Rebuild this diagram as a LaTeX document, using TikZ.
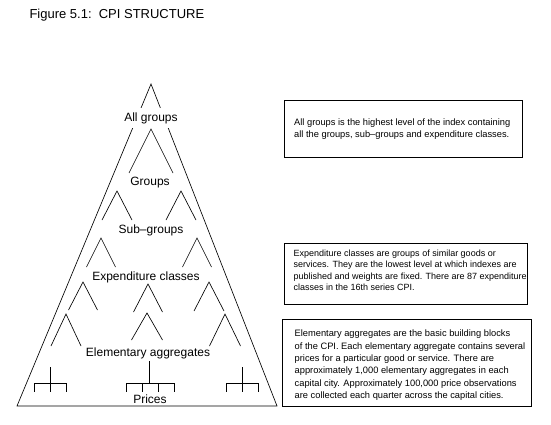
\documentclass[tikz,border=0pt]{standalone}
\usepackage{fontspec}
\setmainfont{Liberation Sans}
\usetikzlibrary{positioning}

\begin{document}
\begin{tikzpicture}[
      x=1pt, y=-1pt,
      outline/.style={line width=0.65pt},
      levellabel/.style={font=\fontsize{12}{14}\selectfont, inner sep=1pt},
      infobox/.style={draw, line width=1pt, anchor=north west, inner sep=0pt},
      infotext/.style={align=left, inner sep=0pt, font=\fontsize{9.3}{11.6}\selectfont}
    ]
    \useasboundingbox (0,0) rectangle (551,425);

    \node[anchor=west, font=\fontsize{13}{15}\selectfont] (title) at (26,15) {Figure 5.1:\hspace{0.55em}CPI STRUCTURE};

    % outer triangle
    \draw[outline] (151,84) -- (17,406) -- (277,406) -- cycle;

    % inner peaks: apex x/apex y/half width/height
    \foreach \x/\y/\w/\h in {151/129/22/44, 117/191/15/29, 181/191/15/29,
        101/238/14.5/29, 197/238/14.5/29,
        83/282/14.5/28, 148/284/14.5/28, 209/282/15/29,
        66/314/15/32, 147/313/15.5/27, 225/314/15.5/32}
      \draw[outline] (\x-\w,\y+\h) -- (\x,\y) -- (\x+\w,\y+\h);

    % price trees: stem x/stem top/bar left/bar right/ticks
    \foreach \s/\t/\l/\r/\ticks in {50.7/367/34.3/66.7/{34.3,50.7,66.7},
        149.3/361/126.7/174/{126.7,142,158,174},
        242.3/367/226.3/258.3/{226.3,242.3,258.3}} {
      \draw[outline] (\s,\t) -- (\s,383);
      \draw[outline] (\l,383) -- (\r,383);
      \foreach \k in \ticks
        \draw[outline] (\k,383) -- (\k,391.5);
    }

    % level names
    \node[levellabel, fill=white, minimum height=20pt] (allgroups) at (151,118) {All groups};
    \node[levellabel] (groups) at (150,183) {Groups};
    \node[levellabel] (subgroups) at (151,230) {Sub--groups};
    \node[levellabel] (expclasses) at (146,277) {Expenditure classes};
    \node[levellabel] (elemaggs) at (148,353) {Elementary aggregates};
    \node[levellabel] (prices) at (150,399) {Prices};

    % notes
    \node[infobox, minimum width=238pt, minimum height=57pt] (topbox) at (284,100) {};
    \node[infotext, below right=18.5pt and 10pt of topbox.north west] (toptext)
      {All groups is the highest level of the index containing\\
       all the groups, sub--groups and expenditure classes.};

    \node[infobox, minimum width=243pt, minimum height=61pt] (midbox) at (284,243) {};
    \node[infotext, font=\fontsize{9}{11.4}\selectfont, below right=6.5pt and 9.5pt of midbox.north west] (midtext)
      {Expenditure classes are groups of similar goods or\\
       services. They are the lowest level at which indexes are\\
       published and weights are fixed. There are 87 expenditure\\
       classes in the 16th series CPI.};

    \node[infobox, minimum width=249pt, minimum height=87pt] (lowbox) at (282,319) {};
    \node[infotext, font=\fontsize{9.3}{12.3}\selectfont, below right=11pt and 12.5pt of lowbox.north west] (lowtext)
      {Elementary aggregates are the basic building blocks\\
       of the CPI. Each elementary aggregate contains several\\
       prices for a particular good or service. There are\\
       approximately 1,000 elementary aggregates in each\\
       capital city. Approximately 100,000 price observations\\
       are collected each quarter across the capital cities.};
  \end{tikzpicture}
\end{document}
